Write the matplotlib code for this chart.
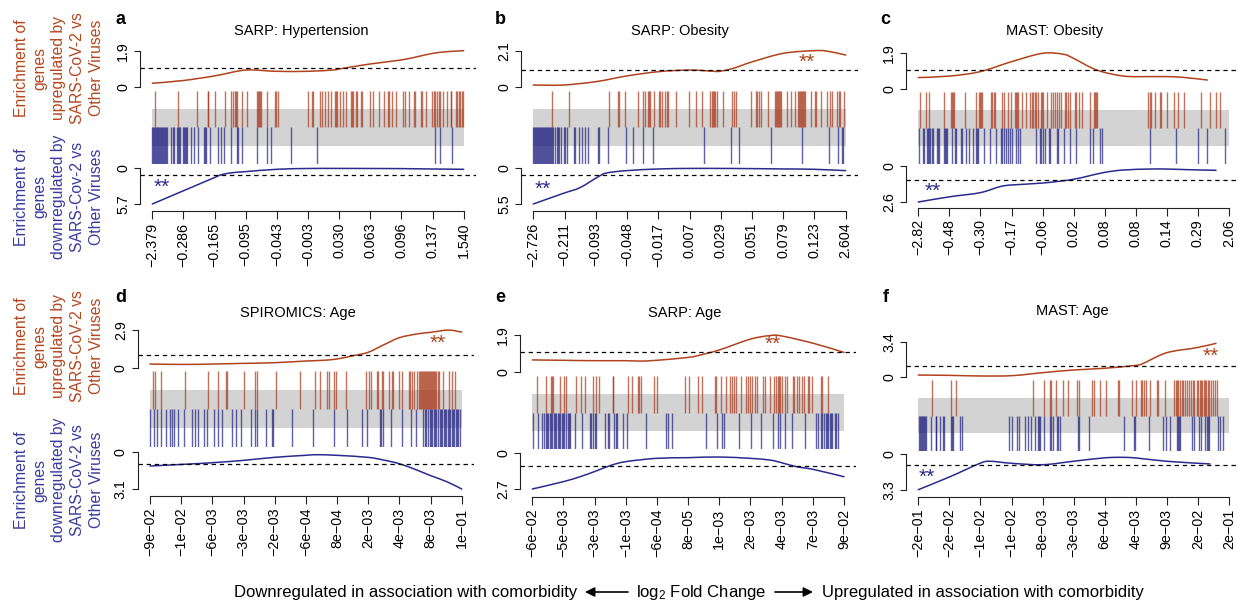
import matplotlib
matplotlib.use("Agg")
import matplotlib.pyplot as plt
from matplotlib.patches import FancyArrowPatch, PathPatch
from matplotlib.path import Path

plt.rcParams['font.family'] = ['Liberation Sans', 'DejaVu Sans']
plt.rcParams['mathtext.fontset'] = 'custom'
plt.rcParams['mathtext.rm'] = 'Liberation Sans'
plt.rcParams['mathtext.it'] = 'Liberation Sans:italic'

# ---------------- data ----------------
titles = ["SARP: Hypertension", "SARP: Obesity", "MAST: Obesity",
          "SPIROMICS: Age", "SARP: Age", "MAST: Age"]
letters = ["a", "b", "c", "d", "e", "f"]
n_genes = [934, 937, 932, 935, 935, 932]
up_max = [1.9, 2.1, 1.9, 2.9, 1.9, 3.4]
down_max = [5.7, 5.5, 2.6, 3.1, 2.7, 3.3]
up_max_labels = ["1.9", "2.1", "1.9", "2.9", "1.9", "3.4"]
down_max_labels = ["5.7", "5.5", "2.6", "3.1", "2.7", "3.3"]

xtick_labels_a = ["−2.379", "−0.286", "−0.165", "−0.095", "−0.043", "−0.003", "0.030", "0.063", "0.096", "0.137", "1.540"]
xtick_labels_b = ["−2.726", "−0.211", "−0.093", "−0.048", "−0.017", "0.007", "0.029", "0.051", "0.079", "0.123", "2.604"]
xtick_labels_c = ["−2.82", "−0.48", "−0.30", "−0.17", "−0.06", "0.02", "0.08", "0.08", "0.14", "0.29", "2.06"]
xtick_labels_d = ["−9e−02", "−1e−02", "−6e−03", "−3e−03", "−2e−03", "−6e−04", "8e−04", "2e−03", "4e−03", "8e−03", "1e−01"]
xtick_labels_e = ["−6e−02", "−5e−03", "−3e−03", "−1e−03", "−6e−04", "8e−05", "1e−03", "2e−03", "4e−03", "7e−03", "9e−02"]
xtick_labels_f = ["−2e−01", "−2e−02", "−1e−02", "−1e−02", "−8e−03", "−3e−03", "6e−04", "4e−03", "9e−03", "2e−02", "2e−01"]

# gene ranks of the up (red) and down (blue) gene sets
a_up_ranks = [9, 77, 135, 166, 168, 189, 219, 235, 243, 248, 252, 255, 268, 283, 313, 316, 320, 324, 327, 344, 367, 371, 377,
              468, 478, 482, 502, 510, 518, 526, 535, 547, 552, 555, 564, 571, 582, 595, 598, 603, 611, 615, 626, 630, 652, 663,
              679, 694, 706, 711, 720, 731, 753, 758, 771, 786, 789, 805, 808, 821, 840, 844, 849, 855, 861, 864, 873, 883, 895,
              897, 910, 915, 919, 923, 928, 933]
a_down_ranks = [0, 3, 6, 9, 12, 15, 18, 21, 24, 27, 30, 33, 36, 39, 42, 45, 56, 63, 66, 73, 78, 81, 84, 93, 96, 99, 102, 105,
                116, 126, 138, 155, 158, 161, 173, 196, 206, 216, 236, 253, 258, 268, 313, 345, 356, 415, 494, 849, 864, 898]
b_up_ranks = [55, 107, 228, 253, 257, 276, 315, 330, 336, 345, 348, 351, 363, 376, 381, 387, 396, 400, 403, 429, 466, 487, 506,
              530, 536, 539, 542, 545, 550, 568, 595, 601, 608, 654, 668, 672, 676, 683, 703, 725, 727, 730, 733, 736, 740, 743,
              761, 774, 786, 794, 797, 800, 803, 806, 809, 812, 815, 833, 844, 848, 862, 880, 890, 895, 911, 916, 920, 933]
b_down_ranks = [0, 3, 6, 9, 12, 15, 18, 21, 24, 27, 30, 33, 36, 39, 42, 45, 48, 51, 54, 56, 60, 66, 70, 74, 78, 82, 92, 96,
                101, 121, 125, 138, 145, 155, 165, 193, 197, 225, 277, 300, 330, 359, 511, 594, 616, 713, 806, 886, 913, 926, 929]
c_up_ranks = [4, 23, 33, 78, 97, 100, 103, 106, 140, 172, 181, 184, 187, 190, 218, 222, 228, 231, 251, 258, 268, 279, 289, 292,
              295, 298, 311, 324, 336, 340, 344, 351, 354, 358, 368, 371, 374, 386, 398, 404, 410, 415, 421, 429, 440, 443, 448,
              455, 469, 472, 483, 492, 514, 528, 531, 534, 537, 690, 694, 698, 711, 724, 728, 746, 767, 778, 796, 848, 876, 894, 904]
c_down_ranks = [3, 13, 16, 25, 28, 33, 36, 40, 44, 55, 58, 62, 76, 81, 84, 87, 100, 111, 114, 128, 131, 144, 153, 163, 173, 176,
                180, 198, 215, 234, 248, 252, 256, 263, 268, 276, 281, 294, 298, 305, 354, 365, 369, 373, 381, 393, 396, 416, 420,
                438, 454, 474, 516, 524, 544, 552, 696, 774, 840, 866, 920]
d_up_ranks = [10, 15, 33, 104, 175, 203, 227, 232, 281, 315, 321, 377, 451, 495, 509, 531, 538, 553, 559, 588, 647, 657, 664,
              681, 685, 695, 700, 716, 725, 729, 747, 757, 777, 781, 787, 792, 801, 807, 811, 814, 817, 820, 823, 826, 829, 832,
              835, 838, 841, 844, 847, 850, 853, 856, 859, 863, 868, 879, 896, 906, 914]
d_down_ranks = [1, 12, 21, 34, 47, 61, 67, 72, 85, 102, 126, 134, 144, 163, 171, 191, 204, 217, 247, 257, 274, 304, 315, 320,
                347, 365, 369, 425, 488, 553, 592, 635, 652, 689, 694, 699, 724, 755, 784, 799, 819, 824, 829, 834, 839, 843,
                847, 851, 855, 859, 864, 869, 874, 877, 881, 884, 889, 893, 897, 901, 905, 909, 913, 917, 921, 925, 929]
e_up_ranks = [13, 42, 57, 60, 63, 82, 96, 100, 131, 147, 159, 181, 190, 200, 241, 243, 288, 300, 317, 321, 327, 364, 375, 459,
              471, 497, 509, 549, 552, 566, 580, 592, 600, 605, 610, 626, 642, 646, 654, 658, 667, 674, 692, 697, 713, 725, 730,
              736, 740, 744, 748, 757, 765, 782, 785, 795, 801, 809, 814, 827, 830, 840, 865, 870, 888]
e_down_ranks = [2, 16, 29, 36, 40, 44, 48, 52, 56, 60, 64, 68, 72, 76, 80, 84, 88, 92, 96, 100, 108, 111, 114, 127, 148, 172,
                176, 183, 188, 191, 218, 227, 231, 246, 250, 254, 271, 284, 342, 400, 408, 418, 521, 554, 568, 576, 621, 655,
                686, 722, 738, 742, 758, 778, 818, 850, 858, 866, 870, 874, 880, 884, 888, 892, 896, 900, 908, 912, 918]
f_up_ranks = [42, 99, 114, 345, 378, 396, 399, 414, 433, 449, 475, 481, 520, 527, 546, 562, 598, 602, 640, 654, 668, 672, 678,
              682, 694, 715, 719, 741, 768, 772, 776, 780, 786, 790, 795, 801, 806, 812, 818, 824, 828, 836, 840, 844, 848, 852,
              856, 860, 864, 868, 873, 878, 884, 890, 896]
f_down_ranks = [2, 5, 8, 11, 14, 17, 20, 23, 39, 52, 54, 65, 74, 77, 97, 102, 104, 124, 130, 271, 282, 295, 302, 319, 328, 338,
                349, 358, 361, 364, 377, 394, 398, 403, 416, 419, 425, 480, 483, 512, 618, 646, 650, 693, 735, 743, 755, 775,
                778, 783, 786, 821, 827, 843, 848, 861, 865, 869, 873, 899, 905, 915]

# enrichment worms (rank, enrichment)
a_up_x = [0, 92, 186, 263, 303, 373, 466, 543, 560, 653, 747, 803, 841, 883, 934]
a_up_y = [0.21, 0.35, 0.59, 0.86, 0.90, 0.83, 0.83, 0.90, 0.95, 1.21, 1.42, 1.62, 1.76, 1.85, 1.90]
a_dn_x = [0, 92, 186, 208, 243, 280, 373, 466, 560, 653, 747, 841, 934]
a_dn_y = [5.70, 3.62, 1.49, 1.01, 0.69, 0.53, 0.16, 0.03, 0.02, 0.03, 0.05, 0.11, 0.16]
b_up_x = [0, 90, 190, 280, 377, 470, 540, 560, 600, 658, 750, 840, 880, 937]
b_up_y = [0.13, 0.13, 0.33, 0.65, 0.90, 0.99, 0.92, 0.92, 1.09, 1.47, 1.95, 2.10, 2.08, 1.85]
b_dn_x = [0, 90, 140, 195, 220, 280, 377, 470, 560, 658, 750, 840, 937]
b_dn_y = [5.50, 3.86, 2.98, 1.29, 0.72, 0.36, 0.10, 0.02, 0.02, 0.05, 0.10, 0.15, 0.36]
c_up_x = [0, 95, 185, 280, 373, 435, 465, 535, 615, 695, 745, 795, 867]
c_up_y = [0.62, 0.70, 0.93, 1.46, 1.90, 1.85, 1.64, 1.02, 0.70, 0.67, 0.67, 0.63, 0.49]
c_dn_x = [0, 95, 185, 245, 280, 373, 465, 555, 615, 695, 745, 815, 893]
c_dn_y = [2.60, 2.22, 1.93, 1.49, 1.37, 1.23, 0.96, 0.48, 0.29, 0.22, 0.22, 0.27, 0.31]
d_up_x = [0, 100, 190, 280, 373, 467, 515, 560, 610, 654, 700, 748, 800, 842, 895, 935]
d_up_y = [0.28, 0.25, 0.28, 0.33, 0.38, 0.51, 0.56, 0.66, 0.92, 1.17, 1.73, 2.29, 2.57, 2.70, 2.87, 2.72]
d_dn_x = [0, 100, 190, 280, 373, 467, 500, 560, 654, 700, 748, 800, 842, 890, 935]
d_dn_y = [1.19, 1.05, 0.91, 0.72, 0.47, 0.30, 0.25, 0.30, 0.47, 0.69, 1.00, 1.52, 1.99, 2.49, 3.10]
e_up_x = [0, 93, 186, 280, 323, 373, 468, 503, 560, 653, 713, 748, 843, 935]
e_up_y = [0.61, 0.59, 0.57, 0.57, 0.55, 0.59, 0.74, 0.86, 1.12, 1.68, 1.87, 1.85, 1.47, 1.00]
e_dn_x = [0, 93, 143, 186, 233, 280, 373, 468, 560, 653, 713, 748, 793, 843, 935]
e_dn_y = [2.70, 2.15, 1.78, 1.40, 0.95, 0.65, 0.40, 0.35, 0.30, 0.40, 0.53, 0.73, 1.03, 1.23, 1.78]
f_up_x = [0, 95, 185, 280, 373, 465, 555, 652, 675, 745, 835, 893]
f_up_y = [0.16, 0.13, 0.07, 0.10, 0.39, 0.65, 0.81, 1.10, 1.30, 2.33, 2.82, 3.24]
f_dn_x = [0, 95, 185, 215, 280, 373, 465, 555, 605, 652, 745, 875]
f_dn_y = [3.30, 2.09, 0.84, 0.65, 0.84, 0.97, 0.65, 0.34, 0.28, 0.34, 0.65, 0.90]

# ---------------- layout (pixels) ----------------
W, H = 1238, 602
# x0, x1, top_max, top_zero, bar_top, bar_bot, bot_zero, bot_max, xaxis
layout = [
    (152.3, 463.7, 50.7, 87.3, 90.7, 164.3, 168.3, 204.0, 210.7),
    (533.3, 845.7, 50.7, 87.3, 90.7, 164.3, 168.3, 204.0, 210.7),
    (918.3, 1229.0, 53.3, 89.3, 92.3, 163.7, 166.0, 202.0, 207.5),
    (150.0, 461.7, 329.7, 367.7, 371.0, 447.3, 451.7, 489.0, 496.0),
    (532.3, 844.0, 335.0, 371.7, 376.0, 449.0, 453.0, 489.0, 496.7),
    (918.3, 1229.0, 341.7, 376.7, 380.0, 451.0, 454.3, 489.7, 496.7),
]
title_pos = [(301, 31), (680, 31), (1055, 31), (298, 313), (685, 313), (1072, 311)]
letter_pos = [(121, 19), (500, 20), (885, 20), (121, 298), (500, 298), (886, 298)]
up_star_pos = [None, (807, 62), None, (438, 343), (773, 344), (1211, 356)]
dn_star_pos = [(162, 187), (543, 189), (933, 191), None, None, (927, 477)]

RED = "#A8381A"
BLUE = "#1E1E80"
RED_LINE = "#B0421C"
BLUE_LINE = "#2A2A8E"
RED_TXT = "#B4461E"
BLUE_TXT = "#3A3A9E"
AX_COL = "#222222"

fig = plt.figure(figsize=(W / 100, H / 100), dpi=100)


def add_px_axes(left, right, top, bottom):
    return fig.add_axes([left / W, 1 - bottom / H, (right - left) / W, (bottom - top) / H])


def fx(x):
    return x / W


def fy(y):
    return 1 - y / H


def smooth_curve(ax, xs, ys, color):
    """Draw a smooth (Catmull-Rom as cubic Bezier) line through the read points."""
    n = len(xs)
    verts = [(xs[0], ys[0])]
    codes = [Path.MOVETO]
    for k in range(n - 1):
        xm, ym = (xs[k - 1], ys[k - 1]) if k > 0 else (xs[k], ys[k])
        xp, yp = (xs[k + 2], ys[k + 2]) if k + 2 < n else (xs[k + 1], ys[k + 1])
        c1 = (xs[k] + (xs[k + 1] - xm) / 6.0, ys[k] + (ys[k + 1] - ym) / 6.0)
        c2 = (xs[k + 1] - (xp - xs[k]) / 6.0, ys[k + 1] - (yp - ys[k]) / 6.0)
        verts += [c1, c2, (xs[k + 1], ys[k + 1])]
        codes += [Path.CURVE4, Path.CURVE4, Path.CURVE4]
    patch = PathPatch(Path(verts, codes), facecolor="none", edgecolor=color, lw=1.1,
                      clip_on=False, capstyle="round")
    ax.add_patch(patch)


panels = [
    (a_up_ranks, a_down_ranks, a_up_x, a_up_y, a_dn_x, a_dn_y, xtick_labels_a),
    (b_up_ranks, b_down_ranks, b_up_x, b_up_y, b_dn_x, b_dn_y, xtick_labels_b),
    (c_up_ranks, c_down_ranks, c_up_x, c_up_y, c_dn_x, c_dn_y, xtick_labels_c),
    (d_up_ranks, d_down_ranks, d_up_x, d_up_y, d_dn_x, d_dn_y, xtick_labels_d),
    (e_up_ranks, e_down_ranks, e_up_x, e_up_y, e_dn_x, e_dn_y, xtick_labels_e),
    (f_up_ranks, f_down_ranks, f_up_x, f_up_y, f_dn_x, f_dn_y, xtick_labels_f),
]

for i, (upr, dnr, ux, uy, dx, dy, xtl) in enumerate(panels):
    x0, x1, tmax, tzero, btop, bbot, dzero, dmax, xax = layout[i]
    N = n_genes[i]
    pad = 0.04 * (x1 - x0)
    left, right = x0 - pad, x1 + pad
    xlim = (-0.04 * N, 1.04 * N)

    # --- up worm ---
    ax1 = add_px_axes(left, right, tmax, tzero)
    ax1.set_xlim(xlim)
    ax1.set_ylim(0, up_max[i])
    smooth_curve(ax1, ux, uy, RED_LINE)
    ax1.axhline(1, color="black", lw=0.9, ls=(0, (3.5, 3)))
    for s in ["top", "right", "bottom"]:
        ax1.spines[s].set_visible(False)
    ax1.spines["left"].set_bounds(0, up_max[i])
    ax1.spines["left"].set_color(AX_COL)
    ax1.spines["left"].set_linewidth(0.8)
    ax1.set_xticks([])
    ax1.set_yticks([0, up_max[i]])
    ax1.set_yticklabels(["0", up_max_labels[i]], rotation=90, va="center", fontsize=10.3)
    ax1.tick_params(axis="y", length=4.5, width=0.8, color=AX_COL, pad=2.5)
    ax1.patch.set_visible(False)

    # --- barcode ---
    ax2 = add_px_axes(left, right, btop, bbot)
    ax2.set_xlim(xlim)
    ax2.set_ylim(0, 1)
    ax2.fill_between([0, N], 0.25, 0.75, color="#D3D3D3", lw=0, zorder=0)
    ax2.vlines(upr, 0.5, 1.0, color=RED, alpha=0.7, lw=1.0, zorder=2)
    ax2.vlines(dnr, 0.0, 0.5, color=BLUE, alpha=0.7, lw=1.0, zorder=2)
    ax2.axis("off")

    # --- down worm + x axis ---
    ax3 = add_px_axes(left, right, dzero, xax)
    ax3.set_xlim(xlim)
    ax3.set_ylim(down_max[i] * (xax - dzero) / (dmax - dzero), 0)
    smooth_curve(ax3, dx, dy, BLUE_LINE)
    ax3.axhline(1, color="black", lw=0.9, ls=(0, (3.5, 3)))
    for s in ["top", "right"]:
        ax3.spines[s].set_visible(False)
    ax3.spines["left"].set_bounds(0, down_max[i])
    ax3.spines["bottom"].set_bounds(0, N)
    for s in ["left", "bottom"]:
        ax3.spines[s].set_color(AX_COL)
        ax3.spines[s].set_linewidth(0.8)
    ax3.set_yticks([0, down_max[i]])
    ax3.set_yticklabels(["0", down_max_labels[i]], rotation=90, va="center", fontsize=10.3)
    ax3.tick_params(axis="y", length=4.5, width=0.8, color=AX_COL, pad=2.5)
    ax3.set_xticks([N * k / 10 for k in range(11)])
    ax3.set_xticklabels(xtl, rotation=90, fontsize=10.3)
    ax3.tick_params(axis="x", length=5.5, width=0.8, color=AX_COL, pad=3)
    ax3.patch.set_visible(False)

    # --- texts ---
    fig.text(fx(title_pos[i][0]), fy(title_pos[i][1]), titles[i], ha="center", va="center", fontsize=10.5)
    fig.text(fx(letter_pos[i][0]), fy(letter_pos[i][1]), letters[i], ha="center", va="center",
             fontsize=13, fontweight="bold")
    if up_star_pos[i] is not None:
        fig.text(fx(up_star_pos[i][0]), fy(up_star_pos[i][1]), "**", ha="center", va="center",
                 fontsize=15, color=RED_LINE)
    if dn_star_pos[i] is not None:
        fig.text(fx(dn_star_pos[i][0]), fy(dn_star_pos[i][1]), "**", ha="center", va="center",
                 fontsize=15, color=BLUE_LINE)

# row labels
up_label = "Enrichment of\ngenes\nupregulated by\nSARS-CoV-2 vs\nOther Viruses"
dn_label_1 = "Enrichment of\ngenes\ndownregulated by\nSARS-Cov-2 vs\nOther Viruses"
dn_label_2 = "Enrichment of\ngenes\ndownregulated by\nSARS-CoV-2 vs\nOther Viruses"
for (y, txt, col) in [(68, up_label, RED_TXT), (197, dn_label_1, BLUE_TXT),
                      (346, up_label, RED_TXT), (480, dn_label_2, BLUE_TXT)]:
    fig.text(fx(59), fy(y), txt, rotation=90, ha="center", va="center", multialignment="center",
             fontsize=11.3, color=col, linespacing=1.32)

# bottom annotation
fig.text(fx(577), fy(592), "Downregulated in association with comorbidity", ha="right", va="center", fontsize=12)
fig.text(fx(701), fy(592), r"log$_2$ Fold Change", ha="center", va="center", fontsize=12)
fig.text(fx(822), fy(592), "Upregulated in association with comorbidity", ha="left", va="center", fontsize=12)
for (xa, xb) in [(628, 585), (775, 813)]:
    fig.add_artist(FancyArrowPatch((fx(xa), fy(592)), (fx(xb), fy(592)), transform=fig.transFigure,
                                   arrowstyle="-|>", mutation_scale=14, lw=1.2, color="black",
                                   shrinkA=0, shrinkB=0))

fig.savefig("out.png", dpi=100)
